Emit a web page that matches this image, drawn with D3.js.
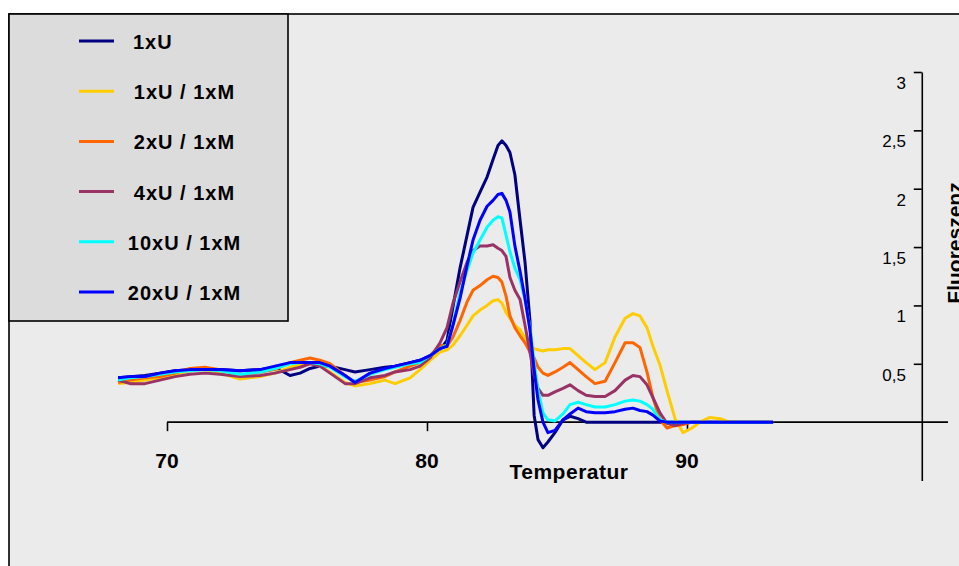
<!DOCTYPE html>
<html>
<head>
<meta charset="utf-8">
<script src="https://cdn.jsdelivr.net/npm/d3@7"></script>
<style>
  body { margin: 0; background: #fff; }
  text { font-family: Arial, "Liberation Sans", sans-serif; fill: #000; }
</style>
</head>
<body>
<div id="chart"></div>
<script>
// Schmelzkurven - Temperatur vs. Fluoreszenz

var temps = [68.12, 68.58, 69.15, 69.73, 70.31, 70.88, 71.46, 72.04, 72.81, 73.58, 74.15, 74.73, 75.12, 75.5, 75.88, 76.27, 76.85, 77.23, 77.81, 78.38, 78.77, 79.35, 79.73, 80.12, 80.5,
  80.77, 81.0, 81.27, 81.54, 81.77, 82.04, 82.31, 82.54, 82.73, 82.88,
  83.04, 83.19, 83.38, 83.58, 83.77, 83.96, 84.12, 84.27, 84.46, 84.65,
  84.92, 85.23, 85.5, 85.81, 86.12,
  86.46, 86.85, 87.23, 87.62, 87.92, 88.19, 88.46, 88.69, 88.96, 89.23, 89.54, 89.85, 90.19, 90.5, 90.88, 91.27, 91.65, 93.31];

var u1 = [0.38, 0.39, 0.40, 0.42, 0.44, 0.45, 0.45, 0.45, 0.44, 0.45, 0.47, 0.40, 0.42, 0.46, 0.48, 0.48, 0.45, 0.43, 0.45, 0.47, 0.48, 0.51, 0.53, 0.57, 0.62,
  0.70, 0.99, 1.32, 1.60, 1.84, 1.97, 2.10, 2.25, 2.37, 2.41, 2.37, 2.31, 2.12, 1.73, 1.37, 0.87, 0.06, -0.15, -0.22, -0.17, -0.09, 0.02, 0.05, 0.03, 0.00,
  0, 0, 0, 0, 0, 0, 0, 0, 0, 0, 0, 0, 0, 0, 0, 0, 0, 0];

var u1m1 = [0.33, 0.34, 0.36, 0.38, 0.41, 0.44, 0.45, 0.42, 0.37, 0.39, 0.42, 0.47, 0.49, 0.51, 0.48, 0.43, 0.34, 0.31, 0.33, 0.36, 0.33, 0.38, 0.45, 0.53, 0.60,
  0.62, 0.66, 0.74, 0.83, 0.91, 0.96, 1.00, 1.04, 1.05, 1.02, 0.94, 0.89, 0.83, 0.79, 0.72, 0.65, 0.63, 0.62, 0.61, 0.62, 0.62, 0.63, 0.63, 0.57, 0.51,
  0.45, 0.51, 0.73, 0.89, 0.93, 0.91, 0.81, 0.65, 0.49, 0.27, 0.03, -0.09, -0.05, 0.00, 0.04, 0.03, 0.00, 0.00];

var u2m1 = [0.34, 0.36, 0.38, 0.39, 0.42, 0.46, 0.47, 0.45, 0.40, 0.43, 0.45, 0.51, 0.53, 0.55, 0.53, 0.50, 0.40, 0.34, 0.36, 0.39, 0.43, 0.48, 0.51, 0.57, 0.66,
  0.65, 0.73, 0.87, 1.03, 1.13, 1.17, 1.22, 1.25, 1.24, 1.20, 1.08, 0.91, 0.81, 0.74, 0.68, 0.60, 0.55, 0.47, 0.42, 0.40, 0.43, 0.47, 0.51, 0.45, 0.39,
  0.33, 0.35, 0.51, 0.68, 0.68, 0.64, 0.43, 0.21, 0.02, -0.05, -0.03, -0.02, 0.00, 0, 0, 0, 0, 0];

var u4m1 = [0.36, 0.33, 0.33, 0.36, 0.39, 0.41, 0.42, 0.41, 0.39, 0.40, 0.42, 0.45, 0.47, 0.50, 0.48, 0.42, 0.33, 0.33, 0.38, 0.40, 0.43, 0.45, 0.48, 0.55, 0.68,
  0.81, 1.02, 1.20, 1.37, 1.47, 1.51, 1.51, 1.52, 1.49, 1.47, 1.42, 1.24, 1.13, 1.05, 0.83, 0.60, 0.40, 0.29, 0.23, 0.23, 0.26, 0.29, 0.32, 0.27, 0.23,
  0.22, 0.22, 0.27, 0.36, 0.40, 0.39, 0.32, 0.21, 0.08, -0.01, -0.03, -0.01, 0.00, 0, 0, 0, 0, 0];

var u10m1 = [0.36, 0.38, 0.39, 0.41, 0.43, 0.44, 0.45, 0.44, 0.41, 0.43, 0.46, 0.50, 0.51, 0.51, 0.50, 0.47, 0.39, 0.35, 0.41, 0.45, 0.47, 0.50, 0.51, 0.57, 0.63,
  0.66, 0.84, 1.11, 1.30, 1.45, 1.56, 1.67, 1.73, 1.76, 1.75, 1.60, 1.46, 1.32, 1.22, 1.05, 0.81, 0.51, 0.27, 0.08, 0.02, 0.01, 0.07, 0.15, 0.17, 0.15,
  0.13, 0.13, 0.15, 0.18, 0.19, 0.18, 0.15, 0.11, 0.02, 0.00, 0, 0, 0, 0, 0, 0, 0, 0];

var u20m1 = [0.38, 0.39, 0.39, 0.42, 0.44, 0.45, 0.45, 0.45, 0.44, 0.45, 0.48, 0.51, 0.51, 0.51, 0.51, 0.48, 0.40, 0.34, 0.42, 0.46, 0.48, 0.51, 0.53, 0.57, 0.63,
  0.65, 0.83, 1.06, 1.34, 1.56, 1.73, 1.85, 1.90, 1.95, 1.96, 1.90, 1.80, 1.51, 1.29, 1.06, 0.79, 0.45, 0.19, 0.00, -0.09, -0.07, 0.02, 0.07, 0.12, 0.09,
  0.08, 0.08, 0.09, 0.11, 0.12, 0.10, 0.09, 0.06, 0.01, 0.00, 0, 0, 0, 0, 0, 0, 0, 0];

var seriesNames = ["1xU", "1xU / 1xM", "2xU / 1xM", "4xU / 1xM", "10xU / 1xM", "20xU / 1xM"];
var seriesColors = ["#000080", "#ffcc00", "#ff6600", "#993366", "#00ffff", "#0000ff"];
var seriesValues = [u1, u1m1, u2m1, u4m1, u10m1, u20m1];

var xTicks = [70, 80, 90];
var yTicks = [0.5, 1, 1.5, 2, 2.5, 3];

var width = 959, height = 566;

var svg = d3.select("#chart").append("svg")
  .attr("width", width)
  .attr("height", height);

// chart area
svg.append("rect")
  .attr("x", 9).attr("y", 14)
  .attr("width", 980).attr("height", 600)
  .style("fill", "#ebebeb")
  .style("stroke", "#000")
  .style("stroke-width", 1.6);

var x = d3.scaleLinear().domain([70, 100]).range([167, 947]);
var y = d3.scaleLinear().domain([-0.5, 3]).range([480.5, 72]);

// x axis at y = 0
var xAxis = svg.append("g")
  .attr("transform", "translate(0," + y(0) + ")")
  .call(d3.axisBottom(x).tickValues(xTicks).tickSize(9).tickSizeOuter(0).tickFormat(""));
xAxis.select(".domain").attr("d", "M" + x(70) + ",0H948");
xAxis.selectAll("path, line").style("stroke", "#000").style("stroke-width", 1.6);

svg.selectAll(".xlab")
  .data(xTicks)
  .enter().append("text")
  .attr("class", "xlab")
  .attr("x", function(d) { return x(d); })
  .attr("y", y(0) + 46)
  .attr("text-anchor", "middle")
  .style("font-size", "21px")
  .style("font-weight", "bold")
  .text(function(d) { return d; });

svg.append("text")
  .attr("x", 569)
  .attr("y", 479)
  .attr("text-anchor", "middle")
  .style("font-size", "21px")
  .style("font-weight", "bold")
  .style("letter-spacing", "0.5px")
  .text("Temperatur");

// y axis sitting at the right
var yAxis = svg.append("g")
  .attr("transform", "translate(" + x(99.03) + ",0)")
  .call(d3.axisLeft(y).tickValues(yTicks).tickSize(8).tickSizeOuter(0).tickFormat(""));
yAxis.selectAll("path, line").style("stroke", "#000").style("stroke-width", 1.6);

svg.selectAll(".ylab")
  .data(yTicks)
  .enter().append("text")
  .attr("class", "ylab")
  .attr("x", 906)
  .attr("y", function(d) { return y(d) + 17; })
  .attr("text-anchor", "end")
  .style("font-size", "17px")
  .text(function(d) { return String(d).replace(".", ","); });

svg.append("text")
  .attr("transform", "translate(962,243) rotate(-90)")
  .attr("text-anchor", "middle")
  .style("font-size", "21px")
  .style("font-weight", "bold")
  .text("Fluoreszenz");

// curves
var line = d3.line()
  .x(function(d, i) { return x(temps[i]); })
  .y(function(d) { return y(d); });

seriesValues.forEach(function(vals, k) {
  svg.append("path")
    .datum(vals)
    .attr("d", line)
    .style("fill", "none")
    .style("stroke", seriesColors[k])
    .style("stroke-width", 3)
    .style("stroke-linejoin", "round");
});

// legend
svg.append("rect")
  .attr("x", 9).attr("y", 14)
  .attr("width", 279).attr("height", 307)
  .style("fill", "#dcdcdc")
  .style("stroke", "#000")
  .style("stroke-width", 1.6);

var leg = svg.selectAll(".leg")
  .data(seriesNames)
  .enter().append("g")
  .attr("class", "leg")
  .attr("transform", function(d, i) { return "translate(0," + (41 + i * 50.2) + ")"; });

leg.append("line")
  .attr("x1", 79).attr("x2", 114)
  .style("stroke", function(d, i) { return seriesColors[i]; })
  .style("stroke-width", 3);

leg.append("text")
  .attr("x", function(d) { return d.indexOf("/") > 0 ? 184.5 : 133; })
  .attr("y", 8)
  .attr("text-anchor", function(d) { return d.indexOf("/") > 0 ? "middle" : "start"; })
  .style("font-size", "20px")
  .style("font-weight", "bold")
  .style("letter-spacing", "1px")
  .text(function(d) { return d; });
</script>
</body>
</html>
